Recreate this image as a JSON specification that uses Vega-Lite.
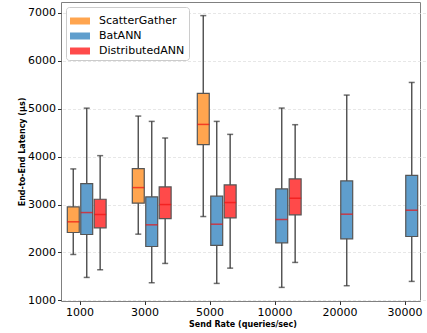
{
  "$schema": "https://vega.github.io/schema/vega-lite/v6.json",
  "autosize": "none",
  "width": 359,
  "height": 299,
  "padding": {"left": 61, "top": 2, "right": 7, "bottom": 32},
  "background": "white",
  "config": {
    "font": "DejaVu Sans",
    "view": {"stroke": "#808080", "strokeWidth": 1},
    "axis": {"labelFont": "DejaVu Sans", "titleFont": "DejaVu Sans", "labelColor": "black", "tickColor": "#333", "domain": false}
  },
  "data": {"values": [
    {"rate": "1000", "series": "ScatterGather", "min": 1958, "q1": 2417, "median": 2640, "q3": 2952, "max": 3744},
    {"rate": "1000", "series": "BatANN", "min": 1479, "q1": 2375, "median": 2833, "q3": 3437, "max": 5012},
    {"rate": "1000", "series": "DistributedANN", "min": 1639, "q1": 2514, "median": 2792, "q3": 3111, "max": 4021},
    {"rate": "3000", "series": "ScatterGather", "min": 2382, "q1": 3028, "median": 3354, "q3": 3750, "max": 4847},
    {"rate": "3000", "series": "BatANN", "min": 1368, "q1": 2125, "median": 2577, "q3": 3160, "max": 4736},
    {"rate": "3000", "series": "DistributedANN", "min": 1771, "q1": 2708, "median": 3000, "q3": 3368, "max": 4389},
    {"rate": "5000", "series": "ScatterGather", "min": 2750, "q1": 4250, "median": 4673, "q3": 5319, "max": 6944},
    {"rate": "5000", "series": "BatANN", "min": 1354, "q1": 2146, "median": 2590, "q3": 3174, "max": 4736},
    {"rate": "5000", "series": "DistributedANN", "min": 1673, "q1": 2722, "median": 3042, "q3": 3410, "max": 4465},
    {"rate": "10000", "series": "BatANN", "min": 1271, "q1": 2201, "median": 2688, "q3": 3326, "max": 5014},
    {"rate": "10000", "series": "DistributedANN", "min": 1792, "q1": 2785, "median": 3132, "q3": 3535, "max": 4667},
    {"rate": "20000", "series": "BatANN", "min": 1306, "q1": 2285, "median": 2799, "q3": 3493, "max": 5285},
    {"rate": "30000", "series": "BatANN", "min": 1396, "q1": 2333, "median": 2882, "q3": 3611, "max": 5549}
  ]},
  "encoding": {
    "x": {
      "field": "rate", "type": "nominal",
      "scale": {"domain": ["1000", "3000", "5000", "10000", "20000", "30000"], "range": [-13.5, 376.5], "paddingInner": 0, "paddingOuter": 0},
      "axis": {"title": "Send Rate (queries/sec)", "labelAngle": 0, "labelFontSize": 11, "titleFontSize": 8, "titleFontWeight": "bold", "tickSize": 3.5, "labelPadding": 2, "titlePadding": 3, "grid": false}
    },
    "xOffset": {
      "field": "series", "type": "nominal",
      "scale": {"domain": ["pad", "ScatterGather", "BatANN", "DistributedANN"], "paddingInner": 0.111, "paddingOuter": 0.474}
    }
  },
  "layer": [
    {
      "mark": {"type": "rule", "color": "#555555", "strokeWidth": 1.5},
      "encoding": {
        "y": {"field": "min", "type": "quantitative",
          "scale": {"domain": [987, 7228], "nice": false, "zero": false},
          "axis": {"title": "End-to-End Latency (μs)", "format": "d", "values": [1000, 2000, 3000, 4000, 5000, 6000, 7000], "labelFontSize": 11, "titleFontSize": 8, "titleFontWeight": "bold", "tickSize": 3.5, "labelPadding": 2, "titlePadding": 1, "grid": true, "gridColor": "#dddddd", "gridDash": [3, 2], "gridWidth": 0.7}},
        "y2": {"field": "max"}
      }
    },
    {
      "mark": {"type": "bar", "stroke": "#555555", "strokeWidth": 1.2},
      "encoding": {
        "y": {"field": "q1", "type": "quantitative"},
        "y2": {"field": "q3"},
        "color": {
          "field": "series", "type": "nominal",
          "scale": {"domain": ["ScatterGather", "BatANN", "DistributedANN"], "range": ["#ffa54f", "#5f9ecd", "#ff4a4a"]},
          "legend": {
            "title": null, "orient": "none", "legendX": 5, "legendY": 5,
            "fillColor": "white", "strokeColor": "#cccccc", "cornerRadius": 3, "padding": 4,
            "labelFontSize": 11, "labelFont": "DejaVu Sans", "labelOffset": 9,
            "symbolType": "M-1,-0.35L1,-0.35L1,0.35L-1,0.35Z", "symbolSize": 400, "symbolStrokeWidth": 0, "symbolOpacity": 1,
            "rowPadding": -4
          }
        }
      }
    },
    {
      "mark": {"type": "tick", "color": "#333333", "size": 6, "thickness": 1.5},
      "encoding": {"y": {"field": "min", "type": "quantitative"}}
    },
    {
      "mark": {"type": "tick", "color": "#333333", "size": 6, "thickness": 1.5},
      "encoding": {"y": {"field": "max", "type": "quantitative"}}
    },
    {
      "mark": {"type": "tick", "color": "#ee1111", "size": 12, "thickness": 1.5},
      "encoding": {"y": {"field": "median", "type": "quantitative"}}
    }
  ]
}
